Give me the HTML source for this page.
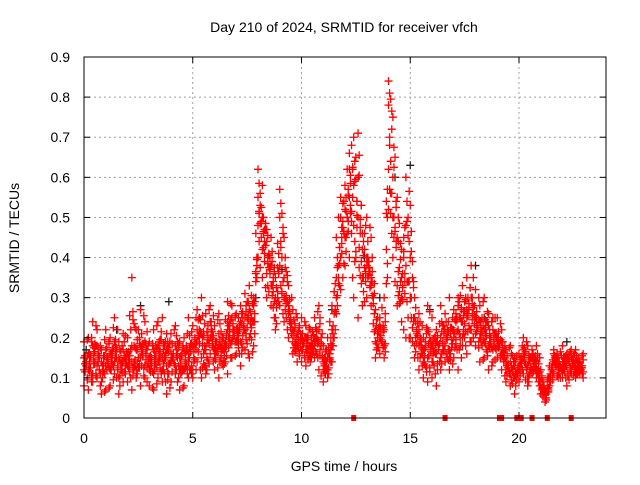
<!DOCTYPE html>
<html><head><meta charset="utf-8"><style>
body{margin:0;background:#fff}
svg text{font-family:"Liberation Sans",sans-serif;font-size:14px;fill:#000}
</style></head><body>
<svg id="chart" width="640" height="480" xmlns="http://www.w3.org/2000/svg">
<rect width="640" height="480" fill="#fff"/>
<g id="grid"></g>
<g id="marks"></g>
<rect x="84" y="57" width="522" height="361" fill="none" stroke="#000" stroke-width="1"/>
<g id="ticks"></g>
<text x="344" y="32" text-anchor="middle">Day 210 of 2024, SRMTID for receiver vfch</text>
<text x="344" y="471" text-anchor="middle">GPS time / hours</text>
<text x="19" y="238" text-anchor="middle" transform="rotate(-90 19 238)">SRMTID / TECUs</text>
</svg>
<script>
const xTicks=[0,5,10,15,20];
const yTicks=[0,0.1,0.2,0.3,0.4,0.5,0.6,0.7,0.8,0.9];
const times=[];for(let i=0;i<115;i++)times.push(+(i*0.2).toFixed(1));
const va=[.15,.12,.18,.10,.14,.13,.16,.11,.19,.14,.16,.35,.12,.18,.13,.12,.17,.10,.15,.21,.14,.18,.12,.20,.16,.18,.22,.15,.26,.20,.17,.21,.14,.24,.19,.22,.28,.25,.20,.30,.62,.50,.44,.38,.30,.57,.45,.28,.22,.25,.20,.17,.22,.15,.28,.12,.10,.22,.30,.40,.58,.66,.70,.60,.35,.40,.35,.22,.20,.18,.84,.75,.55,.42,.38,.53,.25,.18,.14,.22,.18,.22,.12,.26,.15,.20,.28,.33,.25,.30,.25,.20,.30,.18,.22,.20,.16,.12,.14,.10,.12,.15,.18,.11,.14,.06,.05,.10,.14,.12,.14,.16,.12,.17,.11];
const vb=[.08,.20,.11,.22,.09,.22,.08,.25,.10,.17,.09,.14,.22,.08,.24,.19,.07,.24,.09,.13,.09,.23,.15,.08,.25,.12,.27,.10,.17,.24,.12,.26,.17,.11,.28,.16,.19,.31,.27,.18,.55,.42,.36,.45,.25,.50,.30,.20,.27,.18,.14,.23,.18,.25,.19,.18,.15,.14,.26,.50,.45,.55,.48,.71,.28,.30,.45,.15,.25,.30,.78,.50,.45,.30,.60,.40,.30,.12,.20,.15,.10,.16,.20,.14,.30,.15,.22,.18,.35,.22,.18,.28,.15,.26,.14,.15,.22,.09,.18,.13,.09,.20,.13,.17,.10,.08,.04,.09,.16,.10,.10,.13,.15,.12,.14];
const vc=[.19,.07,.24,.13,.17,.07,.20,.14,.06,.21,.20,.07,.17,.27,.10,.08,.22,.14,.25,.06,.21,.11,.07,.17,.10,.23,.14,.30,.13,.16,.23,.10,.20,.29,.15,.26,.13,.22,.15,.24,.48,.58,.30,.33,.22,.38,.24,.33,.16,.21,.25,.13,.16,.20,.12,.09,.20,.28,.35,.32,.38,.62,.30,.50,.42,.50,.28,.19,.16,.22,.62,.40,.28,.35,.48,.20,.18,.26,.10,.28,.25,.08,.28,.18,.12,.27,.12,.24,.16,.38,.32,.14,.22,.12,.25,.25,.12,.17,.08,.15,.16,.11,.08,.15,.12,.12,.06,.13,.11,.15,.18,.08,.11,.10,.12];
const vd=[.12,.16,.09,.18,.06,.17,.12,.19,.15,.09,.13,.18,.10,.15,.19,.15,.11,.18,.12,.17,.16,.13,.19,.12,.14,.10,.19,.21,.11,.28,.15,.18,.13,.22,.25,.19,.24,.17,.33,.28,.40,.35,.47,.28,.35,.28,.35,.26,.19,.14,.17,.20,.14,.18,.22,.14,.12,.18,.45,.55,.52,.40,.58,.25,.46,.38,.33,.27,.23,.15,.52,.60,.33,.24,.20,.30,.15,.22,.17,.09,.14,.19,.15,.22,.17,.22,.30,.20,.27,.19,.21,.24,.19,.23,.17,.18,.19,.14,.11,.06,.13,.17,.10,.12,.18,.09,.07,.08,.17,.13,.12,.14,.17,.14,.13];
const zeroTimes=[12.4,16.6,19.1,19.2,19.9,20.1,20.6,21.3,22.4];
const blackTimes=[0.1,1.5,2.6,3.9,5.3,7.9,9.1,11.4,12.9,13.6,14.3,15.0,15.9,18.0,18.4,22.2];
const blackVals=[.17,.22,.28,.29,.25,.30,.37,.27,.40,.30,.60,.63,.27,.38,.25,.19];
const X=t=>84+t*(522/24), Y=v=>418-v*(361/0.9);
const NS='http://www.w3.org/2000/svg';
const grid=document.getElementById('grid'),ticks=document.getElementById('ticks'),marks=document.getElementById('marks');
function mk(tag,at,p){const e=document.createElementNS(NS,tag);for(const k in at)e.setAttribute(k,at[k]);p.appendChild(e);return e;}
yTicks.forEach(v=>{const y=Y(v);
 if(v>0&&v<0.9){const g=mk('line',{x1:84,x2:606,y1:y,y2:y,stroke:'#a0a0a0','stroke-dasharray':'2,3'},grid);
 
 }
 const t=mk('text',{x:70,y:y+5,'text-anchor':'end'},ticks);t.textContent=(v===0?'0':v.toFixed(1));
 
 
 mk('line',{x1:84,x2:90,y1:y,y2:y,stroke:'#000'},ticks);mk('line',{x1:600,x2:606,y1:y,y2:y,stroke:'#000'},ticks);});
xTicks.forEach(v=>{const x=X(v);
 if(v>0){const g=mk('line',{x1:x,x2:x,y1:57,y2:418,stroke:'#a0a0a0','stroke-dasharray':'2,3'},grid);
 
 }
 const t=mk('text',{x:x,y:443,'text-anchor':'middle'},ticks);t.textContent=v;
 
 
 mk('line',{x1:x,x2:x,y1:418,y2:412,stroke:'#000'},ticks);mk('line',{x1:x,x2:x,y1:57,y2:63,stroke:'#000'},ticks);});
function plus(t,v,c,name){const x=X(t),y=Y(v);
 const p=mk('path',{d:`M${x-4},${y}h8M${x},${y-4}v8`,stroke:c,'stroke-width':1.3},marks);
 
 }
blackTimes.forEach((t,i)=>plus(t,blackVals[i],'#222','black-point'));
const sets=[va,vb,vc,vd];
sets.forEach((arr,k)=>times.forEach((t,i)=>{
 const nxt=arr[(i+1)%arr.length], other=sets[(k+1)%4][i];
 plus(t,arr[i],'#f00','red-point');
 plus(t+0.1,(arr[i]+nxt)/2,'#f00','red-point');
 plus(t+0.05,(arr[i]+other)/2,'#f00','red-point');
 plus(t+0.15,(nxt+other)/2,'#f00','red-point');}));
zeroTimes.forEach(t=>{const r=mk('rect',{x:X(t)-2.5,y:Y(0)-3,width:5,height:6,fill:'#f00'},marks);
 
 });
</script>
</body></html>
